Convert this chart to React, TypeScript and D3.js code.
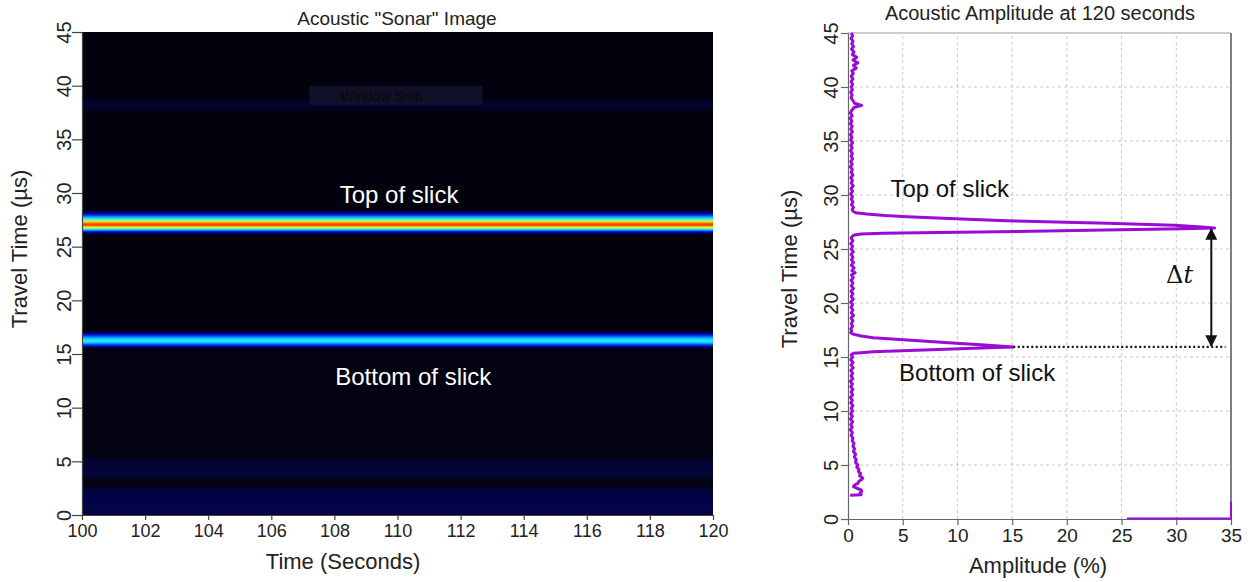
import React, { useEffect, useRef } from 'react';
import * as d3 from 'd3';

const WIDTH = 1254;
const HEIGHT = 582;
const FONT = '"Liberation Sans", Arial, Helvetica, sans-serif';

// axes
const timeTicks = [100, 102, 104, 106, 108, 110, 112, 114, 116, 118, 120];
const travelTicks = [0, 5, 10, 15, 20, 25, 30, 35, 40, 45];
const ampTicks = [0, 5, 10, 15, 20, 25, 30, 35];

// sonar image: intensity profile down the travel-time axis (every column looks the same)
const sonarDepth = [
  45, 39.0, 38.6, 38.2, 37.8, 37.4, 28.4, 28.15, 27.95, 27.75, 27.55, 27.4, 27.28, 27.15,
  27.05, 26.93, 26.8, 26.65, 26.5, 26.38, 26.25, 26.1, 17.15, 16.95, 16.75, 16.5, 16.25,
  16.05, 15.85, 15.65, 15.5, 5.6, 5.0, 4.2, 3.5, 3.2, 2.7, 2.3, 1.5, 0.6, 0,
];
const sonarLevel = [
  0.004, 0.004, 0.012, 0.025, 0.012, 0.004, 0.004, 0.06, 0.16, 0.3, 0.42, 0.55, 0.68, 0.8,
  0.84, 0.76, 0.6, 0.42, 0.25, 0.12, 0.04, 0.004, 0.004, 0.05, 0.16, 0.3, 0.38,
  0.33, 0.18, 0.06, 0.006, 0.006, 0.022, 0.028, 0.02, 0.006, 0.006, 0.028, 0.035, 0.032, 0.03,
];

// jet-like colour map that starts from black
const jetStops = [0, 0.02, 0.05, 0.125, 0.25, 0.375, 0.5, 0.625, 0.75, 0.875, 1];
const jetColors = [
  '#010107', '#05052c', '#00006e', '#0000e6', '#0080ff', '#20f0ff',
  '#80ff80', '#ffff00', '#ff8000', '#ff1a00', '#800000',
];

// amplitude trace at 120 s: [travel time (µs), amplitude (%)]
const ampTrace: [number, number][] = [
  [45.0, 0.3], [44.75, 0.42], [44.5, 0.28], [44.25, 0.45], [44.0, 0.35], [43.75, 0.5],
  [43.5, 0.32], [43.25, 0.55], [43.0, 0.4], [42.75, 0.8], [42.5, 0.45], [42.25, 0.9],
  [42.0, 0.5], [41.75, 0.75], [41.5, 0.35], [41.25, 0.48], [41.0, 0.3], [40.75, 0.45],
  [40.5, 0.28], [40.25, 0.42], [40.0, 0.3], [39.75, 0.4], [39.5, 0.25], [39.25, 0.38],
  [39.0, 0.28], [38.75, 0.45], [38.5, 0.6], [38.3, 1.25], [38.1, 0.55], [37.85, 0.35],
  [37.6, 0.22], [37.35, 0.38], [37.1, 0.2], [36.85, 0.35], [36.6, 0.22], [36.35, 0.38],
  [36.1, 0.25], [35.85, 0.4], [35.6, 0.22], [35.35, 0.36], [35.1, 0.24], [34.85, 0.42],
  [34.6, 0.25], [34.35, 0.38], [34.1, 0.22], [33.85, 0.4], [33.6, 0.28], [33.35, 0.42],
  [33.1, 0.25], [32.85, 0.38], [32.6, 0.22], [32.35, 0.4], [32.1, 0.28], [31.85, 0.45],
  [31.6, 0.26], [31.35, 0.4], [31.1, 0.3], [30.85, 0.48], [30.6, 0.28], [30.35, 0.42],
  [30.1, 0.25], [29.85, 0.4], [29.6, 0.3], [29.35, 0.45], [29.1, 0.32], [28.85, 0.5],
  [28.65, 0.38], [28.5, 0.45],
  // top of slick
  [28.36, 0.7], [28.24, 1.7], [28.1, 3.4], [27.99, 5.4], [27.8, 9.8], [27.62, 14.5],
  [27.5, 19.0], [27.38, 23.7], [27.19, 29.8], [27.05, 32.0], [26.94, 33.5], [26.88, 30.5],
  [26.76, 23.5], [26.7, 19.5], [26.6, 13.8], [26.51, 6.5], [26.45, 3.2], [26.39, 1.2],
  [26.3, 0.6], [26.2, 0.4],
  [26.0, 0.28], [25.75, 0.45], [25.5, 0.25], [25.25, 0.42], [25.0, 0.3], [24.75, 0.48],
  [24.5, 0.28], [24.25, 0.45], [24.0, 0.32], [23.75, 0.5], [23.5, 0.3], [23.25, 0.55],
  [23.0, 0.35], [22.8, 0.65], [22.6, 0.32], [22.35, 0.48], [22.1, 0.28], [21.85, 0.45],
  [21.6, 0.3], [21.35, 0.5], [21.1, 0.28], [20.85, 0.45], [20.6, 0.3], [20.35, 0.48],
  [20.1, 0.25], [19.85, 0.42], [19.6, 0.28], [19.35, 0.45], [19.1, 0.3], [18.85, 0.5],
  [18.6, 0.28], [18.35, 0.45], [18.1, 0.3], [17.85, 0.42], [17.6, 0.25], [17.4, 0.35],
  [17.25, 0.25],
  // bottom of slick
  [17.1, 0.5], [16.95, 1.2], [16.79, 2.3], [16.57, 5.4], [16.27, 9.9], [16.1, 12.5],
  [15.93, 15.1], [15.8, 11.5], [15.65, 6.9], [15.49, 2.3], [15.4, 1.2], [15.34, 0.5],
  [15.2, 0.3],
  [15.0, 0.42], [14.75, 0.25], [14.5, 0.45], [14.25, 0.28], [14.0, 0.48], [13.75, 0.25],
  [13.5, 0.42], [13.25, 0.28], [13.0, 0.45], [12.75, 0.22], [12.5, 0.4], [12.25, 0.25],
  [12.0, 0.45], [11.75, 0.28], [11.5, 0.42], [11.25, 0.22], [11.0, 0.4], [10.75, 0.25],
  [10.5, 0.45], [10.25, 0.28], [10.0, 0.42], [9.75, 0.25], [9.5, 0.4], [9.25, 0.22],
  [9.0, 0.42], [8.75, 0.25], [8.5, 0.38], [8.25, 0.22], [8.0, 0.4], [7.75, 0.28],
  [7.5, 0.45], [7.25, 0.38], [7.0, 0.55], [6.75, 0.45], [6.5, 0.6], [6.25, 0.5],
  [6.0, 0.7], [5.75, 0.58], [5.5, 0.75], [5.25, 0.68], [5.0, 0.9], [4.8, 0.8],
  [4.6, 1.0], [4.4, 0.95], [4.2, 1.15], [4.0, 1.05], [3.8, 1.35], [3.65, 1.25],
  [3.5, 1.0], [3.3, 0.9], [3.15, 0.6], [3.0, 0.5], [2.85, 0.8], [2.7, 1.2],
  [2.55, 1.25], [2.4, 1.1], [2.25, 1.2], [2.2, 0.2],
];
// stray segment along the bottom right of the trace plot
const ampTail: [number, number][] = [[0.05, 25.5], [0.05, 35], [1.6, 35]];

const topPeak = { time: 26.94, amp: 33.5 };
const bottomPeak = { time: 15.93, amp: 15.1 };

const App: React.FC = () => {
  const svgRef = useRef<SVGSVGElement>(null);

  useEffect(() => {
    if (!svgRef.current) return;
    const svg = d3.select(svgRef.current);
    svg.selectAll('*').remove();

    const defs = svg.append('defs');

    // ---------- left: sonar image ----------
    const lx = d3.scaleLinear().domain([100, 120]).range([82, 713]);
    const ly = d3.scaleLinear().domain([0, 45]).range([515, 32]);
    const jet = d3.scaleLinear<string>().domain(jetStops).range(jetColors).clamp(true);

    const grad = defs
      .append('linearGradient')
      .attr('id', 'sonarGrad')
      .attr('gradientUnits', 'userSpaceOnUse')
      .attr('x1', 0).attr('x2', 0)
      .attr('y1', ly(45)).attr('y2', ly(0));

    sonarDepth.forEach((d, i) => {
      grad.append('stop')
        .attr('offset', (ly(d) - ly(45)) / (ly(0) - ly(45)))
        .attr('stop-color', jet(sonarLevel[i]));
    });

    svg.append('rect')
      .attr('x', lx(100))
      .attr('y', ly(45))
      .attr('width', lx(120) - lx(100))
      .attr('height', ly(0) - ly(45))
      .attr('fill', 'url(#sonarGrad)');

    // ghost of a screen-capture toolbar left in the picture
    svg.append('rect')
      .attr('x', lx(107.2)).attr('y', ly(40))
      .attr('width', lx(112.7) - lx(107.2)).attr('height', ly(38.2) - ly(40))
      .attr('fill', '#13132a').attr('opacity', 0.85);
    svg.append('text')
      .attr('x', lx(108.2)).attr('y', ly(38.6))
      .attr('font-family', FONT).attr('font-size', 14)
      .attr('fill', '#06060e')
      .text('Window Snip');

    const styleAxis = (g: d3.Selection<SVGGElement, unknown, null, undefined>, stroke: string) => {
      g.select('.domain').attr('stroke', stroke).attr('stroke-width', 1.2);
      g.selectAll('.tick line').attr('stroke', stroke).attr('stroke-width', 1.2);
      g.selectAll('.tick text').attr('fill', '#222').attr('font-family', FONT);
    };

    const lxAxis = svg.append('g')
      .attr('transform', `translate(0,${ly(0)})`)
      .call(d3.axisBottom(lx).tickValues(timeTicks).tickSize(5).tickSizeOuter(0).tickPadding(4).tickFormat(d3.format('d')));
    styleAxis(lxAxis, '#444');
    lxAxis.selectAll('.tick text').attr('font-size', 18);

    const lyAxis = svg.append('g')
      .attr('transform', `translate(${lx(100)},0)`)
      .call(d3.axisLeft(ly).tickValues(travelTicks).tickSize(10).tickSizeOuter(0).tickFormat(d3.format('d')));
    styleAxis(lyAxis, '#444');
    lyAxis.selectAll('.tick text')
      .attr('transform', 'rotate(-90)')
      .attr('x', 0).attr('y', -11).attr('dy', 0)
      .attr('text-anchor', 'middle')
      .attr('font-size', 20);

    svg.append('text')
      .attr('x', 397).attr('y', 25)
      .attr('text-anchor', 'middle')
      .attr('font-family', FONT).attr('font-size', 19).attr('fill', '#222')
      .text('Acoustic "Sonar" Image');

    svg.append('text')
      .attr('x', 343).attr('y', 569)
      .attr('text-anchor', 'middle')
      .attr('font-family', FONT).attr('font-size', 22).attr('fill', '#222')
      .text('Time (Seconds)');

    svg.append('text')
      .attr('transform', `translate(27,249) rotate(-90)`)
      .attr('text-anchor', 'middle')
      .attr('font-family', FONT).attr('font-size', 22).attr('fill', '#222')
      .text('Travel Time (µs)');

    svg.append('text')
      .attr('x', lx(110.05)).attr('y', ly(29.07))
      .attr('text-anchor', 'middle')
      .attr('font-family', FONT).attr('font-size', 24).attr('fill', '#fff')
      .text('Top of slick');

    svg.append('text')
      .attr('x', lx(110.5)).attr('y', ly(12.1))
      .attr('text-anchor', 'middle')
      .attr('font-family', FONT).attr('font-size', 24).attr('fill', '#fff')
      .text('Bottom of slick');

    // ---------- right: amplitude trace ----------
    const rx = d3.scaleLinear().domain([0, 35]).range([848, 1231]);
    const ry = d3.scaleLinear().domain([0, 45]).range([519, 33]);

    const grid = svg.append('g');
    ampTicks.filter(v => v > 0 && v < 35).forEach(v => {
      grid.append('line')
        .attr('x1', rx(v)).attr('x2', rx(v))
        .attr('y1', ry(0)).attr('y2', ry(45))
        .attr('stroke', '#c8c8c8').attr('stroke-dasharray', '3,3');
    });
    travelTicks.filter(v => v > 0 && v < 45).forEach(v => {
      grid.append('line')
        .attr('x1', rx(0)).attr('x2', rx(35))
        .attr('y1', ry(v)).attr('y2', ry(v))
        .attr('stroke', '#c8c8c8').attr('stroke-dasharray', '3,3');
    });

    // frame
    svg.append('line')
      .attr('x1', rx(0)).attr('x2', rx(35)).attr('y1', ry(45)).attr('y2', ry(45))
      .attr('stroke', '#999').attr('stroke-width', 1.2);
    svg.append('line')
      .attr('x1', rx(35)).attr('x2', rx(35)).attr('y1', ry(45)).attr('y2', ry(0))
      .attr('stroke', '#555').attr('stroke-width', 1.5);

    const rxAxis = svg.append('g')
      .attr('transform', `translate(0,${ry(0)})`)
      .call(d3.axisBottom(rx).tickValues(ampTicks).tickSize(6).tickSizeOuter(0).tickPadding(4).tickFormat(d3.format('d')));
    styleAxis(rxAxis, '#666');
    rxAxis.selectAll('.tick text').attr('font-size', 19);

    const ryAxis = svg.append('g')
      .attr('transform', `translate(${rx(0)},0)`)
      .call(d3.axisLeft(ry).tickValues(travelTicks).tickSize(7).tickSizeOuter(0).tickFormat(d3.format('d')));
    styleAxis(ryAxis, '#666');
    ryAxis.selectAll('.tick text')
      .attr('transform', 'rotate(-90)')
      .attr('x', 0).attr('y', -10).attr('dy', 0)
      .attr('text-anchor', 'middle')
      .attr('font-size', 20);

    const line = d3.line<[number, number]>()
      .x(d => rx(d[1]))
      .y(d => ry(d[0]));

    svg.append('path')
      .datum(ampTrace)
      .attr('fill', 'none')
      .attr('stroke', '#9a0bd6')
      .attr('stroke-width', 3)
      .attr('stroke-linejoin', 'round')
      .attr('d', line);

    svg.append('path')
      .datum(ampTail)
      .attr('fill', 'none')
      .attr('stroke', '#9a0bd6')
      .attr('stroke-width', 2)
      .attr('d', line);

    // Δt annotation
    svg.append('line')
      .attr('x1', rx(bottomPeak.amp)).attr('x2', rx(34.5))
      .attr('y1', ry(bottomPeak.time)).attr('y2', ry(bottomPeak.time))
      .attr('stroke', '#111').attr('stroke-width', 2.2).attr('stroke-dasharray', '2,2.5');

    const marker = defs.append('marker')
      .attr('id', 'arrowHead')
      .attr('viewBox', '0 0 10 10')
      .attr('refX', 9).attr('refY', 5)
      .attr('markerWidth', 6).attr('markerHeight', 6)
      .attr('markerUnits', 'strokeWidth')
      .attr('orient', 'auto-start-reverse');
    marker.append('path').attr('d', 'M0,0 L10,5 L0,10 z').attr('fill', '#111');

    svg.append('line')
      .attr('x1', rx(33.2)).attr('x2', rx(33.2))
      .attr('y1', ry(topPeak.time) + 1).attr('y2', ry(bottomPeak.time) - 1)
      .attr('stroke', '#111').attr('stroke-width', 2)
      .attr('marker-start', 'url(#arrowHead)')
      .attr('marker-end', 'url(#arrowHead)');

    const dt = svg.append('text')
      .attr('x', rx(30.3)).attr('y', ry(21.85))
      .attr('text-anchor', 'middle')
      .attr('font-family', '"DejaVu Serif", "Liberation Serif", serif')
      .attr('font-size', 24).attr('fill', '#111');
    dt.append('tspan').text('Δ');
    dt.append('tspan').attr('font-style', 'italic').text('t');

    svg.append('text')
      .attr('x', rx(9.3)).attr('y', ry(29.8))
      .attr('text-anchor', 'middle')
      .attr('font-family', FONT).attr('font-size', 24).attr('fill', '#111')
      .text('Top of slick');

    svg.append('text')
      .attr('x', rx(11.8)).attr('y', ry(12.8))
      .attr('text-anchor', 'middle')
      .attr('font-family', FONT).attr('font-size', 24).attr('fill', '#111')
      .text('Bottom of slick');

    svg.append('text')
      .attr('x', 1040).attr('y', 20)
      .attr('text-anchor', 'middle')
      .attr('font-family', FONT).attr('font-size', 20).attr('fill', '#222')
      .text('Acoustic Amplitude at 120 seconds');

    svg.append('text')
      .attr('x', 1038).attr('y', 573)
      .attr('text-anchor', 'middle')
      .attr('font-family', FONT).attr('font-size', 22).attr('fill', '#222')
      .text('Amplitude (%)');

    svg.append('text')
      .attr('transform', `translate(797,269) rotate(-90)`)
      .attr('text-anchor', 'middle')
      .attr('font-family', FONT).attr('font-size', 22).attr('fill', '#222')
      .text('Travel Time (µs)');
  }, []);

  return (
    <svg
      ref={svgRef}
      width={WIDTH}
      height={HEIGHT}
      style={{ position: 'absolute', left: 0, top: 0, background: '#fff' }}
    />
  );
};

export default App;
